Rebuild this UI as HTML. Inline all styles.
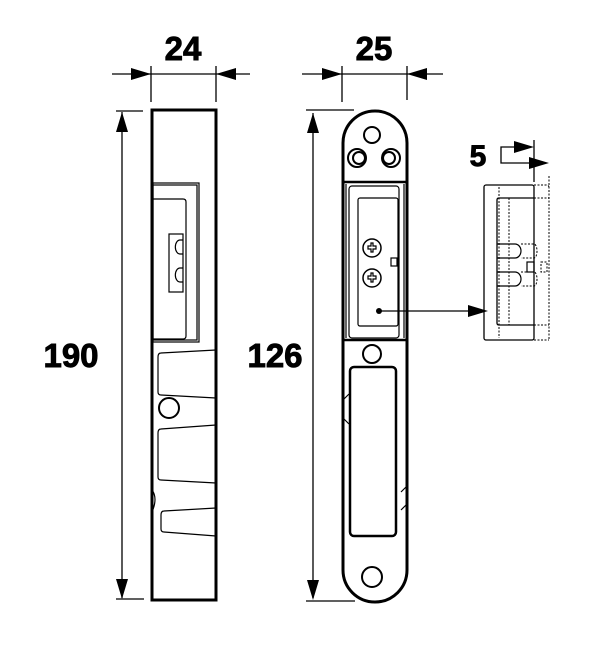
<!DOCTYPE html>
<html><head><style>body{margin:0;background:#fff}svg{display:block}</style></head><body>
<svg width="604" height="654" viewBox="0 0 604 654" xmlns="http://www.w3.org/2000/svg" fill="none" stroke="#000" font-family="Liberation Sans, sans-serif">
<!-- LEFT -->
<g stroke-width="1.3">
<line x1="112" y1="74" x2="250" y2="74"/>
<line x1="151" y1="66" x2="151" y2="102"/>
<line x1="216" y1="66" x2="216" y2="102"/>
<line x1="122" y1="112" x2="122" y2="598"/>
<line x1="116" y1="111" x2="143" y2="111"/>
<line x1="116" y1="599" x2="144" y2="599"/>
</g>
<g fill="#000" stroke="none">
<polygon points="151,74 131,68 131,80"/>
<polygon points="216,74 236,68 236,80"/>
<polygon points="122,112 116,132 128,132"/>
<polygon points="122,599 116,579 128,579"/>
</g>
<g fill="#000" stroke="#000" stroke-width="0.9" font-weight="bold" text-anchor="middle">
<text x="183" y="60" font-size="33">24</text>
<text x="71" y="367" font-size="33">190</text>
<text x="374" y="60" font-size="33">25</text>
<text x="275" y="367" font-size="33">126</text>
<text x="478" y="166" font-size="30">5</text>
</g>
<rect x="152" y="110" width="64" height="490" stroke-width="3"/>
<g stroke-width="1.2">
<rect x="153" y="183" width="46" height="159"/>
<rect x="153" y="185" width="44" height="155"/>
<path d="M153 199 H183 Q186 199 186 202 V336 Q186 339 183 339 H153"/>
<rect x="169" y="234" width="14" height="58"/>
<path d="M183 240 h-3 a4 6 0 0 0 0 14 h3 M183 268 h-3 a4 6 0 0 0 0 14 h3"/>
<path d="M216 350 L161 353 Q158 353 158 357 V392 Q158 395 161 395 L216 398"/>
<path d="M216 425 L161 429 Q158 429 158 433 V477 Q158 480 161 480 L216 483"/>
<path d="M216 508 L164 511 Q161 511 161 515 V529 Q161 532 164 532 L216 536"/>
<path d="M152 490 Q158 498 152 512"/>
</g>
<circle cx="169" cy="408" r="10" stroke-width="2"/>
<!-- MIDDLE -->
<g stroke-width="1.3">
<line x1="302" y1="74" x2="443" y2="74"/>
<line x1="342" y1="66" x2="342" y2="102"/>
<line x1="407" y1="66" x2="407" y2="100"/>
<line x1="313" y1="113" x2="313" y2="598"/>
<line x1="306" y1="110" x2="354" y2="110"/>
<line x1="306" y1="601" x2="355" y2="601"/>
</g>
<g fill="#000" stroke="none">
<polygon points="342,74 322,68 322,80"/>
<polygon points="407,74 427,68 427,80"/>
<polygon points="313,113 307,133 319,133"/>
<polygon points="313,600 307,580 319,580"/>
</g>
<path d="M343 143 A32 32 0 0 1 407 143 V570 A32 32 0 0 1 343 570 Z" stroke-width="3"/>
<line x1="343" y1="182" x2="407" y2="182" stroke-width="2.5"/>
<line x1="343" y1="340" x2="407" y2="340" stroke-width="2.5"/>
<g stroke-width="1.2">
<line x1="346" y1="184" x2="346" y2="338"/><line x1="404" y1="184" x2="404" y2="338"/>
<rect x="349" y="186" width="50" height="152" rx="3"/>
<rect x="358" y="198" width="40" height="128" rx="2"/>
<rect x="391" y="258" width="6" height="8"/>
<path d="M343 400 l6 -6 M343 418 l6 6 M407 486 l-6 6 M407 504 l-6 6"/>
</g>
<circle cx="372" cy="135" r="8" stroke-width="2"/>
<circle cx="357" cy="158" r="9" stroke-width="2"/><circle cx="359" cy="158" r="6" stroke-width="2"/>
<circle cx="391" cy="158" r="9" stroke-width="2"/><circle cx="389" cy="158" r="6" stroke-width="2"/>
<circle cx="372" cy="248" r="9" stroke-width="1.5"/><circle cx="372" cy="278" r="9" stroke-width="1.5"/>
<path d="M368 246h3v-3h2v3h3v3h-3v3h-2v-3h-3z M368 276h3v-3h2v3h3v3h-3v3h-2v-3h-3z" stroke-width="1.2"/>
<circle cx="372" cy="354" r="9" stroke-width="2"/>
<rect x="350" y="367" width="46" height="169" rx="4" stroke-width="2.5"/>
<circle cx="372" cy="577" r="10" stroke-width="2"/>
<circle cx="379" cy="311" r="3" fill="#000" stroke="none"/>
<line x1="379" y1="311" x2="472" y2="311" stroke-width="1.3"/>
<polygon points="488,311 468,305 468,317" fill="#000" stroke="none"/>
<!-- RIGHT -->
<g stroke-width="1.3">
<path d="M518 147 H501 V163 H530"/>
<line x1="534" y1="140" x2="534" y2="182"/>
</g>
<polygon points="534,147 514,141 514,153" fill="#000" stroke="none"/>
<polygon points="549,163 529,157 529,169" fill="#000" stroke="none"/>
<rect x="484" y="185" width="50" height="155" rx="2" stroke-width="1.3"/>
<path d="M534 198 H499 Q497 198 497 200 V323 Q497 325 499 325 H534" stroke-width="1.3"/>
<g stroke-width="1" stroke-dasharray="2 1.5">
<line x1="549" y1="176" x2="549" y2="340"/>
<line x1="499" y1="187" x2="499" y2="338"/><line x1="509" y1="198" x2="509" y2="325"/>
<path d="M534 185 H546 Q549 185 549 188"/><line x1="534" y1="340" x2="549" y2="340"/>
<line x1="534" y1="198" x2="549" y2="198"/><line x1="534" y1="325" x2="549" y2="325"/>
<rect x="541" y="262" width="6" height="10"/>
<path d="M521 244 H534 a3 7 0 0 1 0 14 H521 M521 272 H534 a3 7 0 0 1 0 14 H521"/>
</g>
<g stroke-width="1.2">
<path d="M497 244 H515 a6 7 0 0 1 0 14 H497 M497 272 H515 a6 7 0 0 1 0 14 H497"/>
<rect x="527" y="262" width="7" height="10"/>
</g>
</svg>
</body></html>
